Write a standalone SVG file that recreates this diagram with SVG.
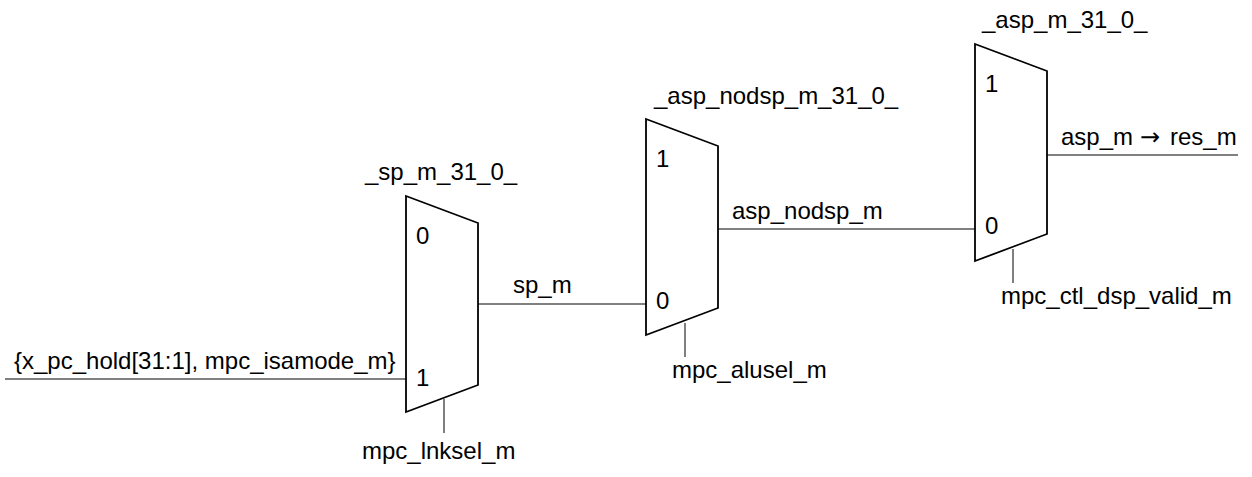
<svg xmlns="http://www.w3.org/2000/svg" width="1252" height="477" viewBox="0 0 1252 477">
<style>
text{font-family:"Liberation Sans",Arial,sans-serif;font-size:24px;fill:#000}
.a{font-family:"DejaVu Sans",sans-serif;font-size:24px}
.m{fill:#fff;stroke:#000;stroke-width:1.8}
.c{stroke:#000;stroke-width:1;fill:none}
</style>
<rect width="1252" height="477" fill="#fff"/>
<g id="connectors">
<path class="c" d="M5 379H406"/><path class="c" d="M478 304H646"/><path class="c" d="M718 229H975"/><path class="c" d="M1047 155H1238"/>
<path class="c" d="M444 399V433"/><path class="c" d="M685 323V357"/><path class="c" d="M1013 249V283"/>
</g>
<g id="mux_sp"><path class="m" d="M406 196L478 223V385L406 412Z"/><text x="416" y="244">0</text><text x="416" y="386">1</text><text x="365" y="180">_sp_m_31_0_</text></g>
<g id="mux_nodsp"><path class="m" d="M646 119L718 146V308L646 335Z"/><text x="656" y="167">1</text><text x="656" y="309">0</text><text x="654" y="104">_asp_nodsp_m_31_0_</text></g>
<g id="mux_asp"><path class="m" d="M975 44L1047 71V234L975 261Z"/><text x="985" y="92">1</text><text x="985" y="234">0</text><text x="982" y="28">_asp_m_31_0_</text></g>
<g id="labels">
<text x="14" y="369">{x_pc_hold[31:1], mpc_isamode_m}</text>
<text x="513" y="293">sp_m</text>
<text x="732" y="219">asp_nodsp_m</text>
<text x="1061" y="145">asp_m <tspan class="a" x="1140">→</tspan> <tspan x="1170">res_m</tspan></text>
<text x="362" y="459">mpc_lnksel_m</text>
<text x="672" y="378">mpc_alusel_m</text>
<text x="1001" y="304">mpc_ctl_dsp_valid_m</text>
</g>
</svg>
